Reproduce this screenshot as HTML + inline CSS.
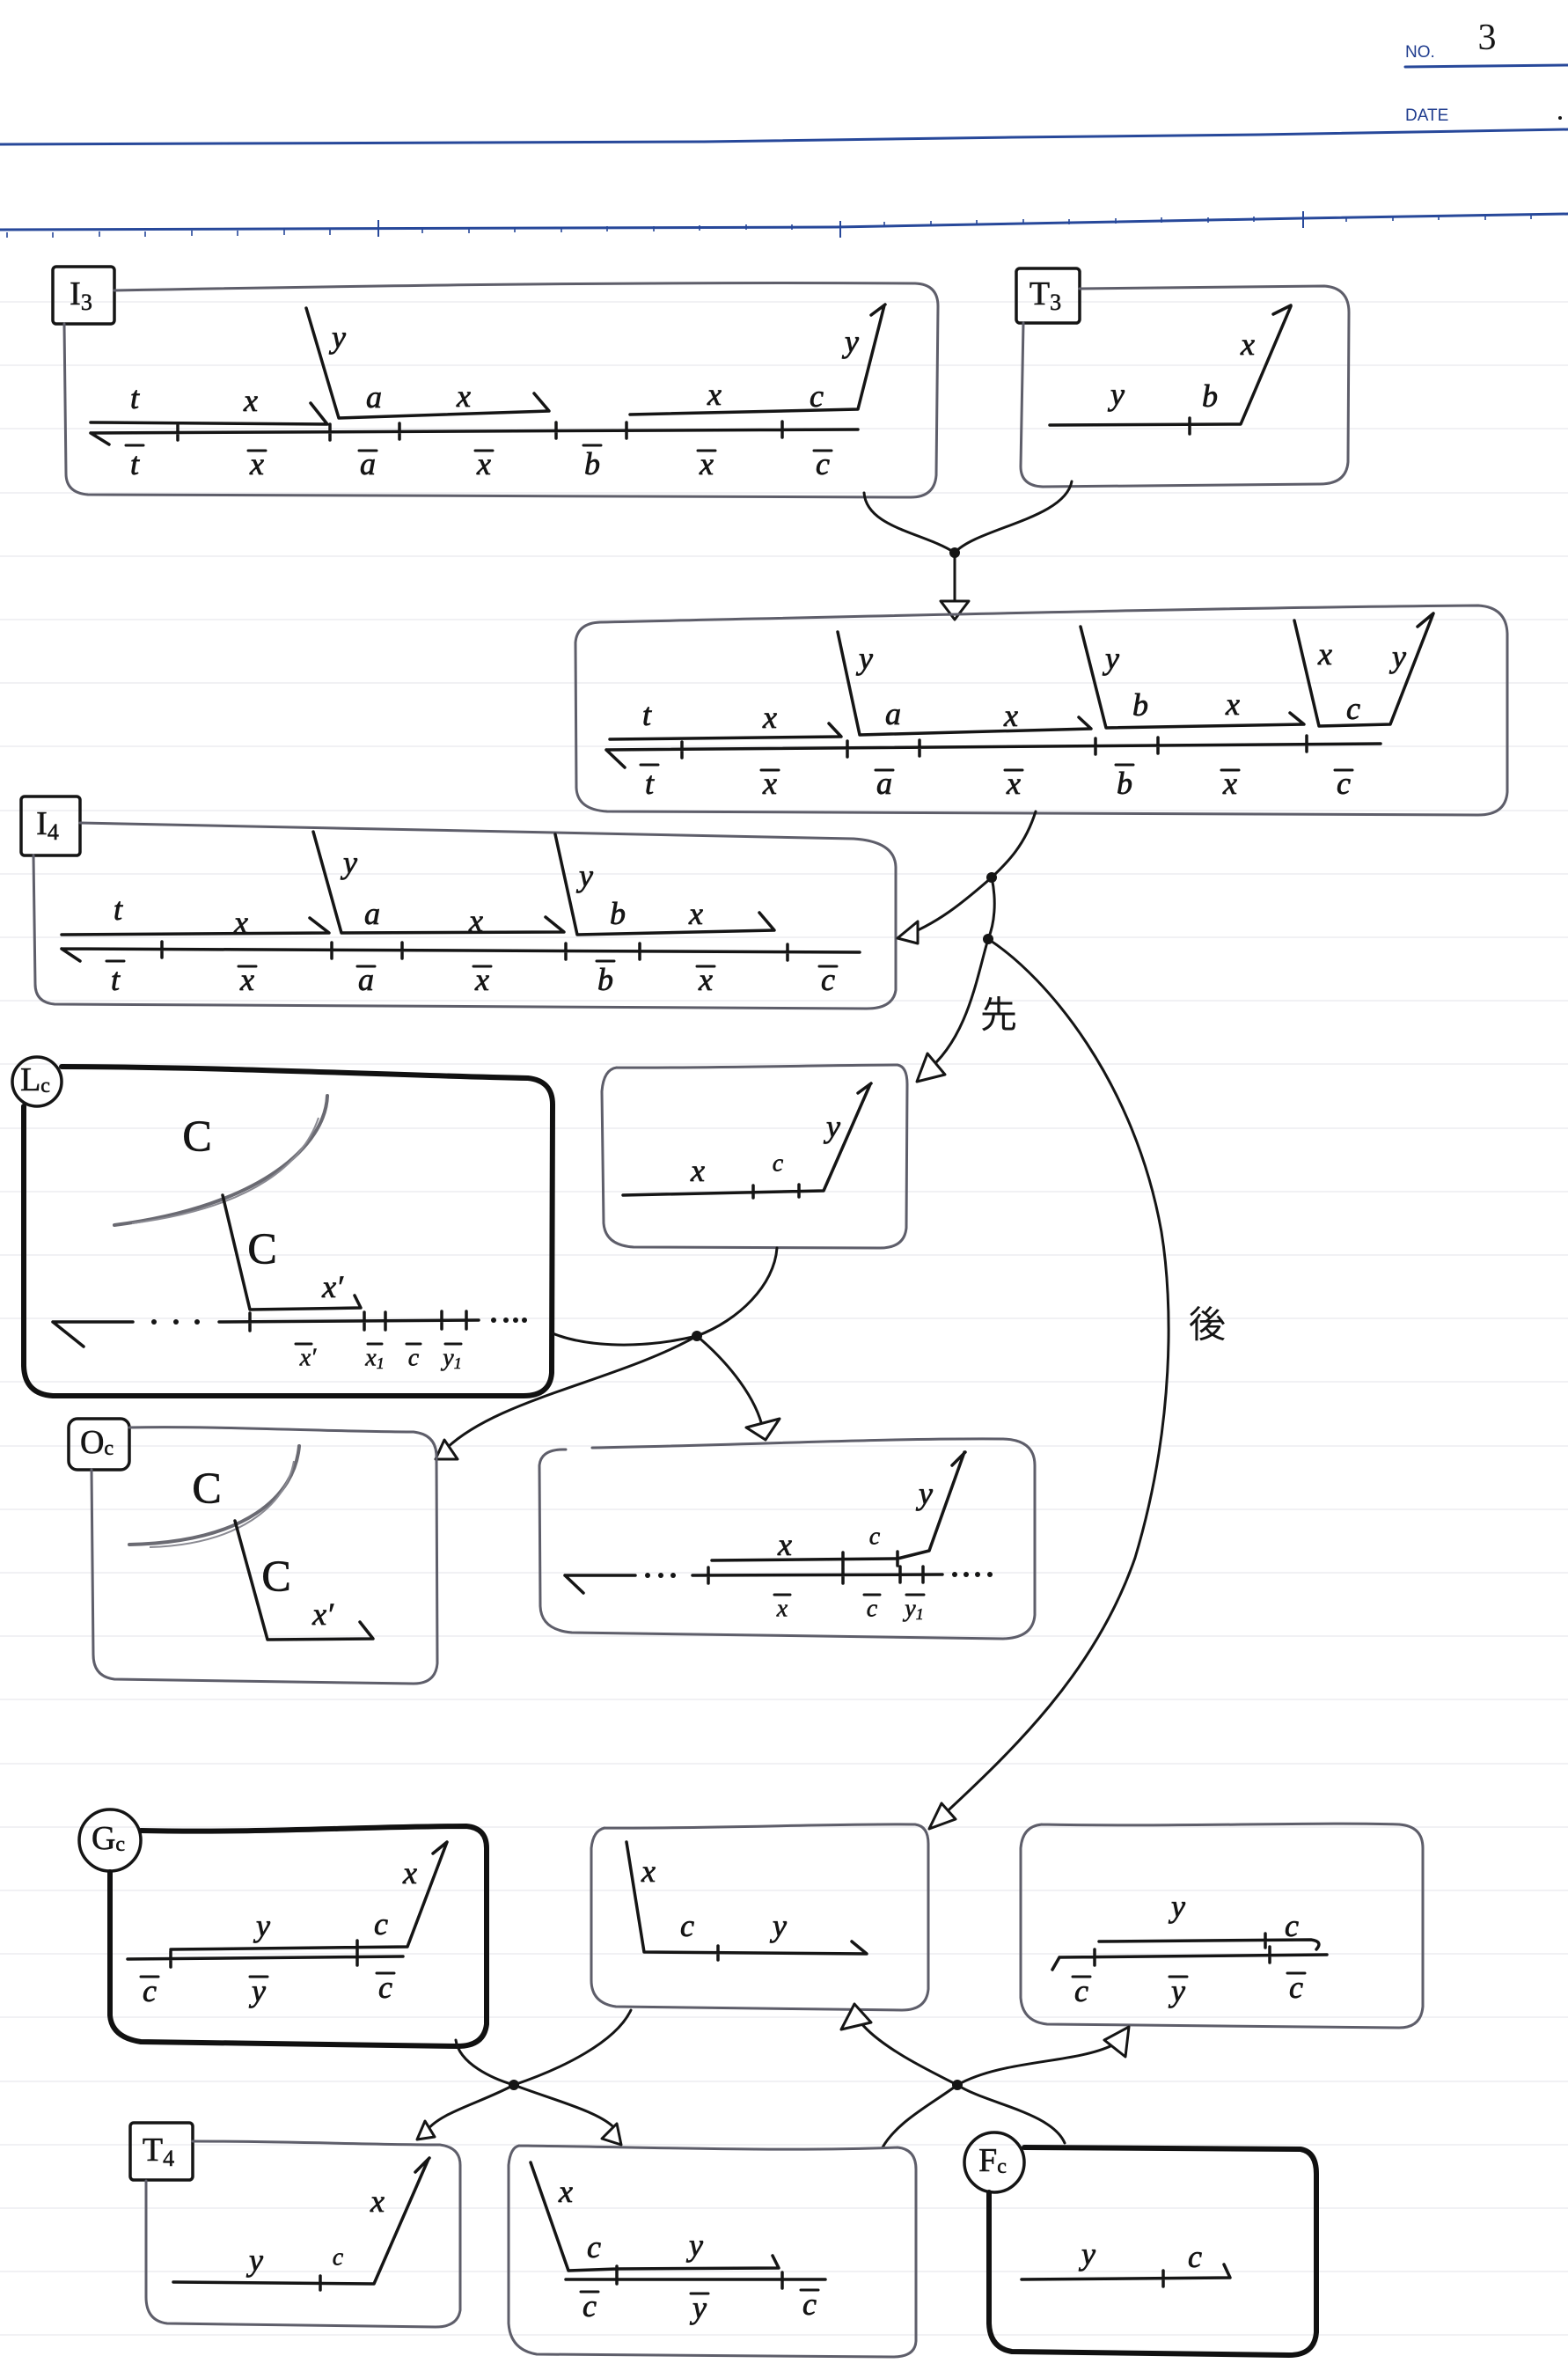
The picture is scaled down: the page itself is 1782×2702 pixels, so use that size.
<!DOCTYPE html>
<html><head><meta charset="utf-8">
<style>
body{margin:0;background:#fff}
svg{display:block}
.k{fill:none;stroke:#151515;stroke-width:3.5;stroke-linecap:round;stroke-linejoin:round}
.c{fill:none;stroke:#151515;stroke-width:3;stroke-linecap:round;stroke-linejoin:round}
.p{fill:none;stroke:#5e5e6a;stroke-width:3;stroke-linecap:round;stroke-linejoin:round}
.b{fill:none;stroke:#111;stroke-width:6;stroke-linecap:round;stroke-linejoin:round}
.q{fill:none;stroke:#6a6a72;stroke-width:4;stroke-linecap:round}
.a{fill:#fff;stroke:#151515;stroke-width:3;stroke-linejoin:round}
.bl{fill:none;stroke:#27489a;stroke-width:3;stroke-linecap:round}
.t{font-family:"Liberation Serif",serif;font-style:italic;font-size:36px;fill:#151515;stroke:#151515;stroke-width:0.8;text-anchor:middle;dominant-baseline:central}
.s{font-family:"Liberation Serif",serif;font-style:italic;font-size:28px;fill:#151515;stroke:#151515;stroke-width:0.6;text-anchor:middle;dominant-baseline:central}
.g{font-family:"Liberation Serif",serif;font-size:38px;fill:#151515;stroke:#151515;stroke-width:0.6;text-anchor:middle;dominant-baseline:central}
.C{font-family:"Liberation Serif",serif;font-size:50px;fill:#151515;stroke:#151515;stroke-width:0.8;text-anchor:middle;dominant-baseline:central}
.cj{font-family:"Liberation Sans","Noto Sans CJK JP","WenQuanYi Zen Hei",sans-serif;font-size:42px;fill:#151515;text-anchor:middle;dominant-baseline:central}
.h{font-family:"Liberation Sans",sans-serif;font-size:19px;fill:#1f3c8e}
</style></head>
<body>
<svg width="1782" height="2702" viewBox="0 0 1782 2702" xmlns="http://www.w3.org/2000/svg">
<rect width="1782" height="2702" fill="#fff"/>

<g stroke="#f1f1f4" stroke-width="2">
<path d="M0,343H1782M0,415H1782M0,487H1782M0,560H1782M0,632H1782M0,704H1782M0,776H1782M0,848H1782M0,921H1782M0,993H1782M0,1065H1782M0,1137H1782M0,1209H1782M0,1282H1782M0,1354H1782M0,1426H1782M0,1498H1782M0,1570H1782M0,1643H1782M0,1715H1782M0,1787H1782M0,1859H1782M0,1931H1782M0,2004H1782M0,2076H1782M0,2148H1782M0,2220H1782M0,2292H1782M0,2365H1782M0,2437H1782M0,2509H1782M0,2581H1782M0,2653H1782"/>
</g>

<text class="h" x="1597" y="65">NO.</text>
<text x="1690" y="56" font-family="Liberation Serif,serif" font-size="42" fill="#151515" text-anchor="middle">3</text>
<path class="bl" d="M1597,76 L1782,74"/>
<text class="h" x="1597" y="137">DATE</text>
<circle cx="1773" cy="134" r="2" fill="#151515"/>
<path class="bl" d="M0,164 L800,161 L1150,156 L1430,153 L1782,147"/>
<path class="bl" d="M0,261 L950,258 L1480,248 L1782,243"/>
<path fill="none" stroke="#27489a" stroke-width="1.6" d="M8,264v6M60,264v6M113,263v6M165,263v6M218,262v6M270,262v6M323,261v6M375,261v6M480,259v6M533,259v6M585,258v6M638,258v6M690,257v6M743,257v6M795,256v6M848,255v6M900,255v6M1005,252v6M1058,251v6M1110,250v6M1163,249v6M1215,249v6M1268,248v6M1320,247v6M1373,247v6M1425,246v6M1530,246v6M1583,245v6M1635,244v6M1688,244v6M1740,243v6"/>
<path fill="none" stroke="#27489a" stroke-width="2" d="M430,250v19M955,251v19M1481,240v19"/>

<!-- I3 -->
<rect x="60" y="303" width="70" height="65" rx="4" class="k"/>
<text class="g" x="92" y="334">I<tspan font-size="26" dy="9">3</tspan></text>
<path class="p" d="M130,330 C400,325 700,320 1040,322 Q1066,323 1066,348 L1064,540 Q1062,565 1035,565 L100,562 Q75,560 75,538 L73,368"/>
<path class="k" d="M103,492 L975,488 M103,492 L124,505 M202,482v18 M375,482v18 M454,481v18 M632,480v18 M712,480v18 M889,479v18 M103,480 L372,482 L353,458 M348,350 L385,475 L624,467 L607,447 M716,471 L975,465 L1005,347 M990,358 L1006,346"/>
<text class="t" x="153" y="452">t</text><text class="t" x="285" y="455">x</text><text class="t" x="425" y="451">a</text><text class="t" x="527" y="450">x</text><text class="t" x="812" y="448">x</text><text class="t" x="928" y="450">c</text><text class="t" x="385" y="383">y</text><text class="t" x="968" y="388">y</text>
<text class="t" x="153" y="527">t</text><text class="t" x="292" y="527">x</text><text class="t" x="418" y="527">a</text><text class="t" x="550" y="527">x</text><text class="t" x="673" y="527">b</text><text class="t" x="803" y="527">x</text><text class="t" x="935" y="527">c</text>
<path class="c" d="M143,506h20 M282,512h20 M408,512h20 M540,512h20 M663,506h20 M793,512h20 M925,512h20"/>

<!-- T3 -->
<rect x="1155" y="305" width="72" height="62" rx="4" class="k"/>
<text class="g" x="1188" y="334">T<tspan font-size="26" dy="9">3</tspan></text>
<path class="p" d="M1227,328 L1505,325 Q1533,327 1533,355 L1532,525 Q1530,550 1500,550 L1185,553 Q1160,552 1160,530 L1163,367"/>
<path class="k" d="M1193,483 L1410,482 L1467,348 M1352,475v18 M1447,357 L1467,347"/>
<text class="t" x="1270" y="448">y</text><text class="t" x="1375" y="450">b</text><text class="t" x="1418" y="391">x</text>

<path class="c" d="M982,560 C985,600 1050,605 1085,628 M1218,547 C1210,590 1110,600 1085,628 M1085,628 L1085,686"/>
<circle cx="1085" cy="628" r="6" fill="#151515"/>
<polygon class="a" points="1069,683 1101,683 1085,704"/>

<!-- merged -->
<path class="p" d="M682,707 C1000,700 1400,690 1680,688 Q1712,690 1713,720 L1713,900 Q1711,926 1680,926 L690,922 Q656,920 655,895 L654,730 Q656,708 682,707"/>
<path class="k" d="M689,852 L1569,845 M689,852 L710,872 M775,843v18 M963,842v18 M1045,841v18 M1245,839v18 M1316,838v18 M1485,836v18 M693,840 L956,837 L942,822 M952,718 L977,835 L1240,828 L1226,815 M1228,712 L1257,827 L1482,823 L1466,810 M1471,705 L1499,825 L1580,823 L1629,697 M1611,712 L1629,697"/>
<text class="t" x="735" y="812">t</text><text class="t" x="875" y="815">x</text><text class="t" x="1015" y="811">a</text><text class="t" x="1149" y="813">x</text><text class="t" x="1296" y="801">b</text><text class="t" x="1401" y="800">x</text><text class="t" x="1538" y="805">c</text><text class="t" x="984" y="748">y</text><text class="t" x="1264" y="748">y</text><text class="t" x="1506" y="743">x</text><text class="t" x="1590" y="746">y</text>
<text class="t" x="738" y="890">t</text><text class="t" x="875" y="890">x</text><text class="t" x="1005" y="890">a</text><text class="t" x="1152" y="890">x</text><text class="t" x="1278" y="890">b</text><text class="t" x="1398" y="890">x</text><text class="t" x="1527" y="890">c</text>
<path class="c" d="M728,869h20 M865,875h20 M995,875h20 M1142,875h20 M1268,869h20 M1388,875h20 M1517,875h20"/>

<!-- I4 -->
<rect x="24" y="905" width="67" height="67" rx="4" class="k"/>
<text class="g" x="54" y="936">I<tspan font-size="26" dy="9">4</tspan></text>
<path class="p" d="M91,935 C400,940 700,948 970,953 Q1017,956 1018,985 L1018,1125 Q1015,1146 985,1146 L62,1141 Q40,1139 40,1118 L38,972"/>
<path class="k" d="M70,1078 L977,1082 M70,1078 L91,1092 M184,1070v18 M377,1071v18 M457,1071v18 M643,1072v18 M727,1072v18 M895,1073v18 M70,1062 L374,1060 L352,1043 M356,945 L388,1060 L641,1059 L620,1042 M631,948 L656,1062 L880,1057 L863,1037"/>
<text class="t" x="134" y="1033">t</text><text class="t" x="274" y="1048">x</text><text class="t" x="423" y="1038">a</text><text class="t" x="541" y="1046">x</text><text class="t" x="702" y="1038">b</text><text class="t" x="791" y="1038">x</text><text class="t" x="398" y="980">y</text><text class="t" x="666" y="995">y</text>
<text class="t" x="131" y="1113">t</text><text class="t" x="281" y="1113">x</text><text class="t" x="416" y="1113">a</text><text class="t" x="548" y="1113">x</text><text class="t" x="688" y="1113">b</text><text class="t" x="802" y="1113">x</text><text class="t" x="941" y="1113">c</text>
<path class="c" d="M121,1092h20 M271,1098h20 M406,1098h20 M538,1098h20 M678,1092h20 M792,1098h20 M931,1098h20"/>

<path class="c" d="M1177,922 C1165,960 1145,980 1127,997 M1127,997 C1095,1025 1065,1050 1024,1065 M1127,997 C1133,1025 1130,1050 1123,1067 M1123,1067 C1110,1110 1100,1180 1052,1218 M1123,1067 C1190,1110 1290,1230 1320,1400 C1333,1480 1335,1620 1290,1770 C1245,1900 1150,1990 1068,2066"/>
<circle cx="1127" cy="997" r="6" fill="#151515"/>
<circle cx="1123" cy="1067" r="6" fill="#151515"/>
<polygon class="a" points="1020,1066 1043,1047 1043,1072"/>
<polygon class="a" points="1042,1229 1054,1197 1074,1221"/>
<polygon class="a" points="1056,2078 1086,2067 1070,2049"/>
<text class="cj" x="1135" y="1153">先</text>
<text class="cj" x="1372" y="1505">後</text>

<!-- Lc -->
<circle cx="42" cy="1229" r="28" class="k"/>
<text class="g" x="40" y="1227" font-size="34">L<tspan font-size="24" dy="7">c</tspan></text>
<path class="b" d="M70,1212 C250,1212 450,1222 600,1225 Q628,1228 628,1255 L627,1560 Q625,1586 595,1586 L60,1586 Q28,1584 27,1552 L27,1257"/>
<path class="q" d="M372,1245 C370,1300 300,1370 130,1392"/>
<path fill="none" stroke="#8a8a92" stroke-width="2" d="M362,1270 C345,1320 290,1372 150,1390"/>
<path class="k" d="M253,1358 L284,1488 L410,1486 L403,1472 M60,1502 L151,1502 M249,1502 L544,1500 M60,1502 L95,1530 M284,1492v20 M414,1491v20 M438,1491v20 M502,1490v20 M530,1490v20"/>
<g fill="#151515"><circle cx="175" cy="1502" r="3"/><circle cx="200" cy="1502" r="3"/><circle cx="224" cy="1502" r="3"/><circle cx="561" cy="1500" r="3"/><circle cx="575" cy="1500" r="3"/><circle cx="586" cy="1500" r="3"/><circle cx="596" cy="1500" r="3"/></g>
<text class="C" x="224" y="1290">C</text><text class="C" x="298" y="1418">C</text>
<text class="t" x="378" y="1462">x′</text>
<text class="s" x="350" y="1543">x′</text><text class="s" x="426" y="1543">x<tspan font-size="18" dy="6">1</tspan></text><text class="s" x="470" y="1543">c</text><text class="s" x="514" y="1543">y<tspan font-size="18" dy="6">1</tspan></text>
<path class="c" d="M336,1527h18 M418,1527h16 M462,1527h16 M506,1527h18"/>

<path class="p" d="M701,1213 C800,1214 950,1210 1020,1210 Q1031,1212 1031,1232 L1030,1395 Q1028,1418 1000,1418 L720,1417 Q688,1415 686,1390 L684,1240 Q686,1215 701,1213"/>
<path class="k" d="M708,1358 L936,1353 L989,1232 M856,1347v14 M908,1346v14 M975,1242 L990,1231"/>
<text class="t" x="793" y="1330">x</text><text class="s" x="884" y="1322">c</text><text class="t" x="947" y="1280">y</text>

<path class="c" d="M628,1515 C660,1528 720,1535 792,1518 M883,1418 C880,1460 840,1500 792,1518 M792,1518 C700,1570 560,1590 503,1650 M792,1518 C830,1550 860,1590 867,1624"/>
<circle cx="792" cy="1518" r="6" fill="#151515"/>
<polygon class="a" points="495,1658 505,1636 520,1658"/>
<polygon class="a" points="870,1636 848,1622 886,1612"/>

<!-- Oc -->
<rect x="78" y="1612" width="69" height="58" rx="10" class="k"/>
<text class="g" x="110" y="1639" font-size="34">O<tspan font-size="24" dy="7">c</tspan></text>
<path class="p" d="M147,1622 C250,1620 380,1627 470,1627 Q496,1630 496,1655 L497,1890 Q495,1913 470,1913 L130,1908 Q106,1905 106,1880 L104,1670"/>
<path class="q" d="M340,1643 C335,1700 280,1752 147,1755"/>
<path fill="none" stroke="#8a8a92" stroke-width="2" d="M334,1660 C325,1712 270,1755 170,1758"/>
<path class="k" d="M267,1728 L304,1863 L424,1862 L409,1843"/>
<text class="C" x="235" y="1690">C</text><text class="C" x="314" y="1790">C</text>
<text class="t" x="367" y="1834">x′</text>

<path class="p" d="M673,1645 C850,1642 1000,1634 1140,1635 Q1176,1636 1176,1665 L1176,1835 Q1174,1861 1140,1862 L650,1855 Q615,1852 614,1825 L613,1665 Q615,1646 643,1647"/>
<path class="k" d="M809,1773 L1020,1771 L1056,1762 L1096,1650 M1082,1665 L1097,1650 M958,1764v16 M1020,1763v16 M642,1790 L722,1790 M787,1790 L1071,1789 M642,1790 L663,1810 M805,1781v18 M958,1781v18 M1023,1780v18 M1049,1780v18"/>
<g fill="#151515"><circle cx="736" cy="1790" r="3"/><circle cx="751" cy="1790" r="3"/><circle cx="765" cy="1790" r="3"/><circle cx="1085" cy="1789" r="3"/><circle cx="1098" cy="1789" r="3"/><circle cx="1111" cy="1789" r="3"/><circle cx="1125" cy="1789" r="3"/></g>
<text class="t" x="892" y="1755">x</text><text class="s" x="994" y="1746">c</text><text class="t" x="1052" y="1697">y</text>
<text class="s" x="889" y="1828">x</text><text class="s" x="991" y="1828">c</text><text class="s" x="1039" y="1828">y<tspan font-size="18" dy="6">1</tspan></text>
<path class="c" d="M880,1812h18 M982,1812h18 M1030,1812h20"/>

<!-- Gc -->
<circle cx="125" cy="2091" r="35" class="k"/>
<text class="g" x="123" y="2089" font-size="34">G<tspan font-size="24" dy="7">c</tspan></text>
<path class="b" d="M160,2080 C300,2083 420,2075 530,2075 Q553,2077 553,2100 L553,2300 Q550,2325 520,2325 L160,2320 Q127,2315 125,2290 L125,2127"/>
<path class="k" d="M194,2215 L463,2212 L508,2093 M492,2106 L508,2093 M406,2205v16 M145,2226 L458,2223 M194,2217v18 M406,2215v18"/>
<text class="t" x="299" y="2188">y</text><text class="t" x="433" y="2186">c</text><text class="t" x="466" y="2128">x</text>
<text class="t" x="170" y="2262">c</text><text class="t" x="294" y="2262">y</text><text class="t" x="438" y="2258">c</text>
<path class="c" d="M160,2246h20 M284,2246h20 M428,2242h20"/>

<path class="p" d="M687,2077 C800,2078 950,2072 1040,2073 Q1055,2075 1055,2095 L1055,2260 Q1053,2284 1025,2284 L700,2280 Q672,2276 672,2250 L672,2100 Q674,2080 687,2077"/>
<path class="k" d="M712,2093 L732,2218 L985,2220 L968,2206 M816,2211v16"/>
<text class="t" x="737" y="2126">x</text><text class="t" x="781" y="2188">c</text><text class="t" x="886" y="2188">y</text>

<path class="p" d="M1184,2073 C1350,2076 1500,2070 1590,2073 Q1617,2075 1617,2100 L1617,2280 Q1615,2304 1590,2304 L1190,2300 Q1162,2297 1160,2270 L1160,2100 Q1162,2075 1184,2073"/>
<path class="k" d="M1249,2206 L1490,2204 Q1504,2206 1496,2215 M1438,2197v16 M1204,2224 L1508,2221 M1204,2224 L1196,2238 M1244,2215v18 M1443,2212v18"/>
<text class="t" x="1339" y="2166">y</text><text class="t" x="1468" y="2188">c</text>
<text class="t" x="1229" y="2262">c</text><text class="t" x="1339" y="2262">y</text><text class="t" x="1473" y="2258">c</text>
<path class="c" d="M1219,2246h20 M1329,2246h20 M1463,2242h20"/>

<path class="c" d="M518,2318 C522,2345 560,2362 584,2369 M717,2284 C700,2320 640,2350 584,2369 M584,2369 C545,2390 500,2400 484,2422 M584,2369 C625,2385 685,2400 700,2420 M1088,2369 C1050,2350 1000,2325 978,2298 M1088,2369 C1140,2340 1220,2345 1264,2324 M1088,2369 C1060,2390 1020,2410 1003,2440 M1210,2435 C1195,2400 1120,2390 1088,2369"/>
<circle cx="584" cy="2369" r="6" fill="#151515"/>
<circle cx="1088" cy="2369" r="6" fill="#151515"/>
<polygon class="a" points="474,2431 483,2410 494,2428"/>
<polygon class="a" points="706,2437 684,2430 701,2413"/>
<polygon class="a" points="971,2277 956,2306 990,2298"/>
<polygon class="a" points="1283,2303 1255,2318 1279,2337"/>

<!-- T4 -->
<rect x="148" y="2412" width="71" height="65" rx="4" class="k"/>
<text class="g" x="180" y="2443">T<tspan font-size="26" dy="9">4</tspan></text>
<path class="p" d="M219,2433 C330,2433 420,2437 500,2437 Q523,2440 523,2460 L523,2625 Q520,2644 495,2644 L190,2640 Q166,2637 166,2610 L166,2478"/>
<path class="k" d="M197,2593 L425,2595 L487,2453 M472,2468 L488,2452 M364,2586v16"/>
<text class="t" x="291" y="2568">y</text><text class="s" x="384" y="2565">c</text><text class="t" x="429" y="2501">x</text>

<path class="p" d="M590,2438 C750,2440 900,2445 1020,2440 Q1041,2442 1041,2465 L1041,2660 Q1040,2678 1015,2678 L610,2675 Q580,2670 578,2640 L578,2460 Q580,2440 590,2438"/>
<path class="k" d="M603,2457 L646,2580 L701,2578 L885,2577 L878,2563 M643,2590 L938,2590 M701,2575v20 M889,2582v18"/>
<text class="t" x="643" y="2490">x</text><text class="t" x="675" y="2553">c</text><text class="t" x="791" y="2551">y</text>
<text class="t" x="670" y="2620">c</text><text class="t" x="795" y="2622">y</text><text class="t" x="920" y="2618">c</text>
<path class="c" d="M660,2604h20 M785,2606h20 M910,2602h20"/>

<!-- Fc -->
<circle cx="1130" cy="2457" r="34" class="k"/>
<text class="g" x="1128" y="2455" font-size="34">F<tspan font-size="24" dy="7">c</tspan></text>
<path class="b" d="M1164,2440 C1300,2440 1400,2442 1478,2442 Q1496,2445 1496,2470 L1496,2650 Q1494,2676 1465,2676 L1150,2672 Q1125,2668 1124,2640 L1124,2491"/>
<path class="k" d="M1161,2590 L1398,2588 L1391,2573 M1322,2580v18"/>
<text class="t" x="1237" y="2561">y</text><text class="t" x="1358" y="2564">c</text>

</svg>
</body></html>
